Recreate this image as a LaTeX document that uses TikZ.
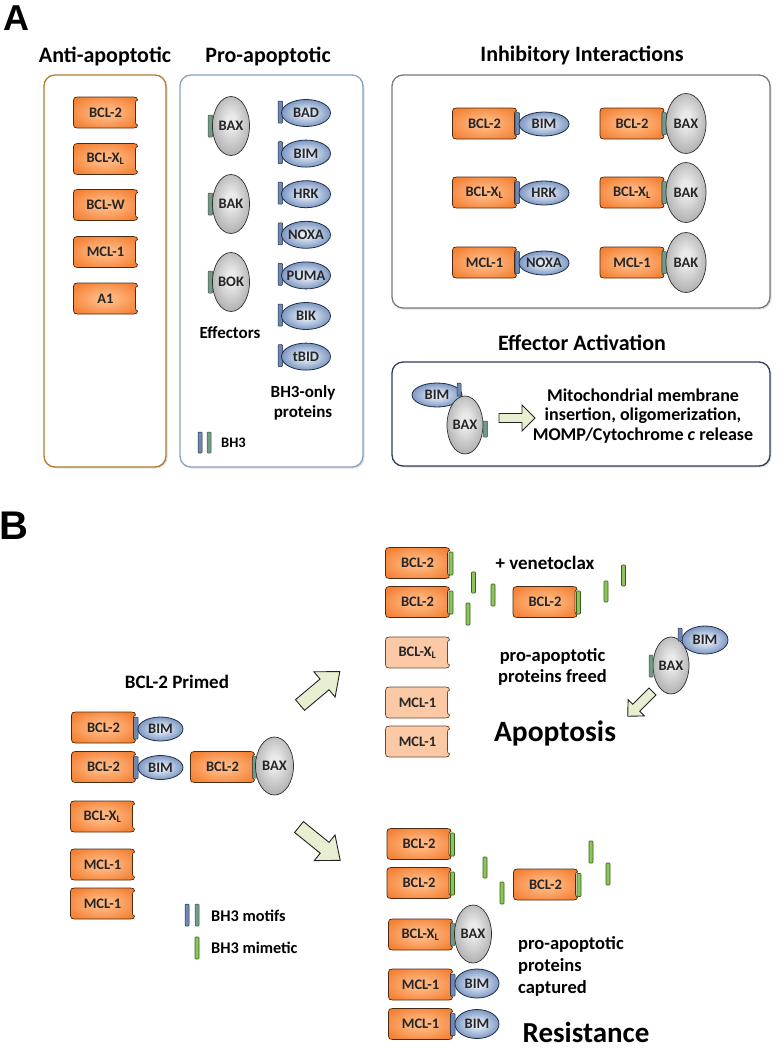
\documentclass[tikz,border=0pt]{standalone}
\usepackage{fontspec}
\setmainfont{Carlito}
\newfontfamily\arialfont{Liberation Sans}
\usetikzlibrary{shapes.geometric,shadows}

\definecolor{orD}{HTML}{EE6812}
\definecolor{orL}{HTML}{FFB47C}
\definecolor{orB}{HTML}{4A2A10}
\definecolor{peach}{HTML}{FBC9A6}
\definecolor{peachB}{HTML}{6A4A30}
\definecolor{grL}{HTML}{EAEAEA}
\definecolor{grD}{HTML}{747474}
\definecolor{grB}{HTML}{303030}
\definecolor{blL}{HTML}{E6EEF8}
\definecolor{blM}{HTML}{7E98C2}
\definecolor{blD}{HTML}{3A5A8E}
\definecolor{blB}{HTML}{1E2E4C}
\definecolor{tabB}{HTML}{7088B0}
\definecolor{tabG}{HTML}{6E9C84}
\definecolor{mim}{HTML}{8CC45A}
\definecolor{mimB}{HTML}{35601A}
\definecolor{arrF}{HTML}{E6F0D0}
\definecolor{arrB}{HTML}{222222}
\definecolor{antiC}{HTML}{B07A30}
\definecolor{proC}{HTML}{8CA2C4}
\definecolor{inhC}{HTML}{7A7A7A}
\definecolor{effC}{HTML}{2E3E5E}

\pgfdeclareradialshading{orangerad}{\pgfpoint{0bp}{0bp}}{color(0bp)=(orL); color(8bp)=(orL); color(30bp)=(orL!35!orD); color(50bp)=(orD); color(80bp)=(orD)}
\pgfdeclareradialshading{greyrad}{\pgfpoint{0bp}{4bp}}{color(0bp)=(grL); color(6bp)=(grL); color(50bp)=(grD); color(75bp)=(grD)}
\pgfdeclareradialshading{bluerad}{\pgfpoint{0bp}{0bp}}{color(0bp)=(blL); color(4bp)=(blL); color(25bp)=(blM); color(50bp)=(blD); color(75bp)=(blD)}

\newcommand\lblfont{\bfseries\fontsize{14.5}{16}\selectfont}

\tikzset{
  obox/.style={shade, shading=orangerad, draw=orB, line width=0.7pt},
  pbox/.style={fill=peach, draw=peachB, line width=0.7pt},
  lbl/.style={font=\lblfont, inner sep=0pt, text=black!85},
  greyov/.style={ellipse, shade, shading=greyrad, draw=grB, line width=0.7pt, inner sep=-3pt,
    minimum width=37pt, minimum height=59pt, font=\lblfont, text=black!85},
  blueov/.style={ellipse, shade, shading=bluerad, draw=blB, line width=0.8pt, inner sep=-4pt,
    minimum width=48pt, minimum height=26pt, font=\lblfont, text=black!85},
  btab/.style={fill=tabB, draw=blB, line width=0.5pt, rounded corners=0.8pt},
  gtab/.style={fill=tabG, draw=black!70, line width=0.5pt, rounded corners=0.8pt},
  mbar/.style={fill=mim, draw=mimB, line width=0.6pt, rounded corners=0.8pt},
  panel/.style={rounded corners=11pt, line width=1.3pt, fill=white,
    drop shadow={shadow xshift=1.5pt, shadow yshift=-1.5pt, opacity=0.25}},
  ttl/.style={font=\bfseries\fontsize{22}{24}\selectfont, inner sep=0pt},
  txt/.style={font=\bfseries\fontsize{#1}{#1}\selectfont, inner sep=0pt},
  panlbl/.style={font=\arialfont\bfseries\fontsize{#1}{#1}\selectfont, inner sep=0pt},
  barrow/.style={fill=arrF, draw=arrB, line width=0.9pt, line join=miter},
}

% #1 style, #2 node name, #3 x, #4 y, #5 label
\newcommand\protbox[5]{%
  \path[#1, shift={(#3,#4)}] (-28,-15.5) -- (28,-15.5)
    .. controls (31,-15.5) and (32,-14.5) .. (32,-12.5)
    .. controls (30.5,-12) and (30,-11) .. (30,-9.5) -- (30,9.5)
    .. controls (30,11) and (30.5,12) .. (32,12.5)
    .. controls (32,14.5) and (31,15.5) .. (28,15.5) -- (-28,15.5)
    .. controls (-31,15.5) and (-32,14.5) .. (-32,12) -- (-32,-12)
    .. controls (-32,-14.5) and (-31,-15.5) .. (-28,-15.5) -- cycle;
  \node[lbl] (#2) at (#3,#4) {#5};
}
% #1 x, #2 y, #3 angle, #4 length, #5 shaft, #6 head width, #7 head length
\newcommand\blockarrow[7]{%
  \draw[barrow, shift={(#1,#2)}, rotate=#3]
    (0,{-#5/2}) -- ({#4-#7},{-#5/2}) -- ({#4-#7},{-#6/2}) -- (#4,0)
    -- ({#4-#7},{#6/2}) -- ({#4-#7},{#5/2}) -- (0,{#5/2}) -- cycle;
}

\begin{document}
\begin{tikzpicture}[x=1pt,y=-1pt]
\useasboundingbox (0,0) rectangle (777,1050);

% ---------- Panel labels ----------
\node[panlbl=36] (labA) at (16,18) {A};
\node[panlbl=40] (labB) at (14,526) {B};

% ---------- Titles ----------
\node[ttl] (tAnti) at (105,56) {Anti-apoptotic};
\node[ttl] (tPro) at (268,56) {Pro-apoptotic};
\node[ttl] (tInh) at (582,55) {Inhibitory Interactions};
\node[ttl] (tEff) at (582,343) {Effector Activation};

% ---------- Panels ----------
\draw[panel, draw=antiC] (44,75) rectangle (166,467);
\draw[panel, draw=proC] (180,75) rectangle (363,467);
\draw[panel, draw=inhC] (392,75) rectangle (770,308);
\draw[panel, draw=effC] (392,362) rectangle (770,466);

% ---------- Anti-apoptotic ----------
\protbox{obox}{aBCL2}{105.5}{112.5}{BCL-2}
\protbox{obox}{aBCLXL}{105.5}{159}{BCL-X\textsubscript{L}}
\protbox{obox}{aBCLW}{105.5}{205}{BCL-W}
\protbox{obox}{aMCL1}{105.5}{252}{MCL-1}
\protbox{obox}{aA1}{105.5}{298.5}{A1}

% ---------- Pro-apoptotic ----------
\foreach \n/\y in {BAX/126, BAK/204, BOK/282}{
  \draw[gtab] (208,\y-11) rectangle (212.5,\y+11);
  \node[greyov] (p\n) at (231,\y) {\n};
}
\foreach \n/\y in {BAD/113, BIM/153.6, HRK/194.2, NOXA/234.8, PUMA/275.4, BIK/316, tBID/356.6}{
  \draw[btab] (278,\y-12) rectangle (282.5,\y+10);
  \node[blueov, minimum width=49pt, minimum height=27pt] (p\n) at (306,\y) {\n};
}
\node[txt=17] (tEffectors) at (230,333) {Effectors};
\node[align=center, font=\bfseries\fontsize{17}{20}\selectfont, inner sep=0pt] (tBHonly) at (303,403) {BH3-only\\proteins};
\draw[btab] (198,432) rectangle (202,453);
\draw[gtab] (207,432) rectangle (211,453);
\node[txt=14.5, anchor=west] (tBH3) at (221,443) {BH3};

% ---------- Inhibitory interactions ----------
\foreach \b/\e/\y in {BCL-2/BIM/123.5, BCL-X\textsubscript{L}/HRK/192.5, MCL-1/NOXA/262.5}{
  \protbox{obox}{i\e box}{484.5}{\y}{\b}
  \draw[btab] (515,\y-11) rectangle (519.5,\y+11);
  \node[blueov, minimum width=50pt, minimum height=24pt] (i\e) at (544,\y+0.5) {\e};
}
\foreach \b/\e/\y/\k in {BCL-2/BAX/123.5/1, BCL-X\textsubscript{L}/BAK/192.5/2, MCL-1/BAK/262.5/3}{
  \protbox{obox}{ir\k box}{632}{\y}{\b}
  \draw[gtab] (662,\y-11) rectangle (666.5,\y+11);
  \node[greyov, minimum width=40pt, minimum height=60pt] (ir\k) at (686,\y) {\e};
}

% ---------- Effector activation ----------
\node[blueov, minimum width=50pt, minimum height=24pt] (eBIM) at (437,395) {BIM};
\draw[btab] (457,383) rectangle (461,396);
\node[greyov, minimum width=36pt, minimum height=58pt] (eBAX) at (465,425) {BAX};
\draw[gtab] (483,421) rectangle (487.5,437);
\blockarrow{499}{418}{0}{36}{9}{26}{13}
\node[align=center, font=\bfseries\fontsize{18}{19.5}\selectfont, inner sep=0pt] (eText) at (643,416)
  {Mitochondrial membrane\\insertion, oligomerization,\\MOMP/Cytochrome \textit{c} release};

% ---------- Panel B: primed ----------
\node[txt=19] (tPrimed) at (177,682) {BCL-2 Primed};
\protbox{obox}{bBCL2a}{103.5}{727.5}{BCL-2}
\draw[btab] (133.5,717) rectangle (138,739);
\node[blueov, minimum width=45pt, minimum height=24pt] (bBIMa) at (160.5,729) {BIM};
\protbox{obox}{bBCL2b}{103.5}{767}{BCL-2}
\draw[btab] (133.5,756.5) rectangle (138,778.5);
\node[blueov, minimum width=45pt, minimum height=24pt] (bBIMb) at (160.5,767.5) {BIM};
\protbox{obox}{bBCL2c}{222.5}{767}{BCL-2}
\draw[gtab] (252.5,756) rectangle (257,778);
\node[greyov, minimum width=38pt, minimum height=58pt] (bBAX) at (274.5,766) {BAX};
\protbox{obox}{bBCLXL}{102.5}{816.5}{BCL-X\textsubscript{L}}
\protbox{obox}{bMCL1a}{102.5}{864.5}{MCL-1}
\protbox{obox}{bMCL1b}{102.5}{903.5}{MCL-1}

% legend
\draw[btab] (185,904) rectangle (189,926);
\draw[gtab] (195,904) rectangle (199,926);
\node[txt=16.3, anchor=west] (tMotifs) at (211,916) {BH3 motifs};
\draw[mbar] (195,937) rectangle (199,959);
\node[txt=16.3, anchor=west] (tMimetic) at (211,948) {BH3 mimetic};

% branch arrows
\blockarrow{300}{705}{40}{52}{14}{33}{20}
\blockarrow{299}{827}{-39}{53}{14}{33}{20}

% ---------- Apoptosis branch ----------
\protbox{obox}{uBCL2a}{417.5}{563}{BCL-2}
\draw[mbar] (449,552) rectangle (453,575);
\protbox{obox}{uBCL2b}{417.5}{602}{BCL-2}
\draw[mbar] (449,591) rectangle (453,614);
\protbox{obox}{uBCL2c}{545}{602}{BCL-2}
\draw[mbar] (576.5,591) rectangle (580.5,614);
\draw[mbar] (471.5,572) rectangle (475.5,593);
\draw[mbar] (491,584) rectangle (495,606);
\draw[mbar] (466,603) rectangle (470,625);
\draw[mbar] (604,581) rectangle (608,602);
\draw[mbar] (621.5,565) rectangle (625.5,586);
\node[txt=19] (tVen) at (545,563) {+ venetoclax};
\protbox{pbox}{uBCLXL}{417.5}{652.5}{BCL-X\textsubscript{L}}
\protbox{pbox}{uMCL1a}{417.5}{702.5}{MCL-1}
\protbox{pbox}{uMCL1b}{417.5}{741.5}{MCL-1}
\node[align=center, font=\bfseries\fontsize{18.5}{20.5}\selectfont, inner sep=0pt] (tFreed) at (552.5,667) {pro-apoptotic\\proteins freed};
\node[blueov, minimum width=46pt, minimum height=28pt] (uBIM) at (705,640) {BIM};
\node[greyov, minimum width=36pt, minimum height=57pt] (uBAX) at (671,665.5) {BAX};
\draw[btab] (678,628) rectangle (682,641);
\draw[gtab] (649,655) rectangle (653,677);
\blockarrow{652.5}{691.5}{225}{35}{10}{23}{12}
\node[txt=29.5] (tApop) at (555,733) {Apoptosis};

% ---------- Resistance branch ----------
\protbox{obox}{rBCL2a}{419}{844}{BCL-2}
\draw[mbar] (450.5,833) rectangle (454.5,856);
\protbox{obox}{rBCL2b}{419}{883}{BCL-2}
\draw[mbar] (450.5,872) rectangle (454.5,895);
\protbox{obox}{rBCL2c}{545.5}{884.5}{BCL-2}
\draw[mbar] (577,873.5) rectangle (581,896.5);
\draw[mbar] (483,857) rectangle (487,878);
\draw[mbar] (500,882) rectangle (504,904);
\draw[mbar] (589,841) rectangle (593,863);
\draw[mbar] (606,863) rectangle (610,885);
\protbox{obox}{rBCLXL}{420.5}{934.5}{BCL-X\textsubscript{L}}
\draw[gtab] (450.5,923.5) rectangle (455,945.5);
\node[greyov, minimum width=37pt, minimum height=58pt] (rBAX) at (473,934) {BAX};
\protbox{obox}{rMCL1a}{420.5}{984.5}{MCL-1}
\draw[btab] (450.5,974) rectangle (455,996);
\node[blueov, minimum width=44pt, minimum height=29pt] (rBIMa) at (477,983.5) {BIM};
\protbox{obox}{rMCL1b}{420.5}{1024}{MCL-1}
\draw[btab] (450.5,1013.5) rectangle (455,1035.5);
\node[blueov, minimum width=44pt, minimum height=29pt] (rBIMb) at (477,1024) {BIM};
\node[align=left, anchor=west, font=\bfseries\fontsize{18.5}{22}\selectfont, inner sep=0pt] (tCaptured) at (518,966) {pro-apoptotic\\proteins\\captured};
\node[txt=29] (tRes) at (586,1032) {Resistance};

\end{tikzpicture}
\end{document}
